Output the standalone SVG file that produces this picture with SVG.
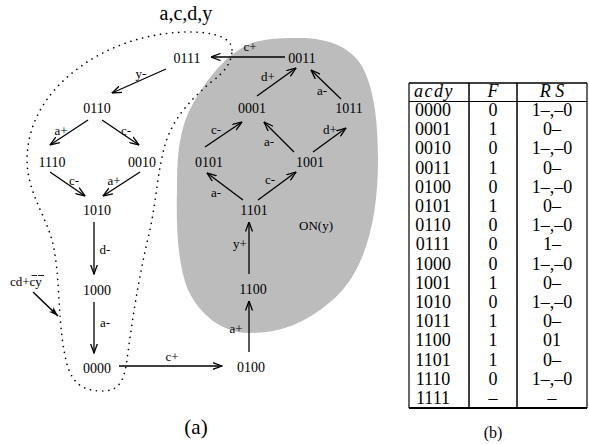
<svg xmlns="http://www.w3.org/2000/svg" width="589" height="444" viewBox="0 0 589 444">
  <style>
    .node { font-family: "Liberation Serif", "Times New Roman", serif; font-size: 14px; text-anchor: middle; fill: #000; }
    .lbl { font-family: "Liberation Serif", "Times New Roman", serif; font-size: 13px; text-anchor: middle; fill: #000; }
    .edge { stroke: #000; stroke-width: 1.3; fill: none; marker-end: url(#arr); }
    .cap { font-family: "Liberation Serif", "Times New Roman", serif; text-anchor: middle; fill: #000; }
    .tb { font-family: "Liberation Serif", "Times New Roman", serif; font-size: 18px; text-anchor: middle; fill: #000; }
    .th { font-family: "Liberation Serif", "Times New Roman", serif; font-size: 18px; font-style: italic; text-anchor: middle; fill: #000; }
    .rule { stroke: #000; fill: none; }
  </style>
  <defs>
    <marker id="arr" viewBox="0 0 10 8" refX="9.5" refY="4" markerWidth="10" markerHeight="8" markerUnits="userSpaceOnUse" orient="auto">
      <path d="M0,0.5 L9.5,4 L0,7.5" fill="none" stroke="#000" stroke-width="1.3"/>
    </marker>
    <marker id="arrFill" viewBox="0 0 10 8" refX="9.5" refY="4" markerWidth="10" markerHeight="8" markerUnits="userSpaceOnUse" orient="auto">
      <path d="M0,0.8 L9.5,4 L0,7.2 L2.5,4 Z" fill="#000"/>
    </marker>
  </defs>

  <rect width="589" height="444" fill="#fff"/>

  <!-- ON-set region of y -->
  <path id="on-region" d="M300,38 C330,38 352,48 363,68 C374,90 378,120 378,160 C378,220 365,270 335,298 C310,320 285,333 250,333 C222,333 200,315 188,290 C178,265 176,230 177,190 C177,150 180,125 195,100 C210,75 230,50 255,42 C270,38 285,38 300,38 Z" fill="#bcbcbc"/>

  <!-- dotted boundary around the excitation region -->
  <path id="region-outline" d="M232,50 C232,38 215,32 190,32 C150,32 110,45 80,67 C45,92 27,125 27,160 C27,190 45,215 52,240 C60,270 58,320 64,350 C68,375 75,390 100,391 C120,392 124,380 127,360 C132,320 140,270 150,230 C156,200 158,170 165,145 C172,120 190,100 210,83 C225,72 232,62 232,50 Z" fill="none" stroke="#000" stroke-width="1.6" stroke-linecap="round" stroke-dasharray="0.1 6"/>

  <text class="cap" x="186" y="20" font-size="20">a,c,d,y</text>

  <!-- transitions -->
  <g id="connectors">
    <line class="edge" x1="285" y1="57" x2="211" y2="57"/>
    <line class="edge" x1="166" y1="69" x2="112" y2="93"/>
    <line class="edge" x1="88" y1="120" x2="50" y2="145"/>
    <line class="edge" x1="102" y1="120" x2="139" y2="145"/>
    <line class="edge" x1="50" y1="172" x2="85" y2="196"/>
    <line class="edge" x1="140" y1="172" x2="103" y2="196"/>
    <line class="edge" x1="94" y1="222" x2="94" y2="274"/>
    <line class="edge" x1="94" y1="302" x2="94" y2="353"/>
    <line class="edge" x1="119" y1="366" x2="222" y2="366"/>
    <line class="edge" x1="249" y1="352" x2="249" y2="301"/>
    <line class="edge" x1="249" y1="274" x2="249" y2="222"/>
    <line class="edge" x1="243" y1="200" x2="207" y2="173"/>
    <line class="edge" x1="258" y1="200" x2="296" y2="172"/>
    <line class="edge" x1="205" y1="147" x2="242" y2="122"/>
    <line class="edge" x1="294" y1="152" x2="264" y2="122"/>
    <line class="edge" x1="313" y1="152" x2="346" y2="128"/>
    <line class="edge" x1="257" y1="96" x2="296" y2="68"/>
    <line class="edge" x1="341" y1="99" x2="311" y2="70"/>
    <line x1="33" y1="292" x2="58" y2="316" stroke="#000" stroke-width="1.5" marker-end="url(#arrFill)"/>

    <text class="lbl" x="250" y="51">c+</text>
    <text class="lbl" x="141" y="78">y-</text>
    <text class="lbl" x="61" y="135">a+</text>
    <text class="lbl" x="126" y="135">c-</text>
    <text class="lbl" x="74" y="185">c-</text>
    <text class="lbl" x="114" y="185">a+</text>
    <text class="lbl" x="105" y="254">d-</text>
    <text class="lbl" x="105" y="327">a-</text>
    <text class="lbl" x="172" y="361">c+</text>
    <text class="lbl" x="236" y="333">a+</text>
    <text class="lbl" x="240" y="248">y+</text>
    <text class="lbl" x="216" y="197">a-</text>
    <text class="lbl" x="270" y="184">c-</text>
    <text class="lbl" x="216" y="134">c-</text>
    <text class="lbl" x="269" y="146">a-</text>
    <text class="lbl" x="330" y="134">d+</text>
    <text class="lbl" x="268" y="81">d+</text>
    <text class="lbl" x="322" y="95">a-</text>
    <text class="lbl" x="316" y="230">ON(y)</text>
    <g id="guard">
      <text class="lbl" x="10" y="286" style="text-anchor:start" font-size="14">cd+cy</text>
      <line x1="31.5" y1="275.5" x2="37" y2="275.5" stroke="#000" stroke-width="0.9"/>
      <line x1="38" y1="275.5" x2="44" y2="275.5" stroke="#000" stroke-width="0.9"/>
    </g>
  </g>

  <!-- states -->
  <g id="n0111"><text class="node" x="187" y="63">0111</text></g>
  <g id="n0011"><text class="node" x="302" y="63">0011</text></g>
  <g id="n0110"><text class="node" x="97" y="113">0110</text></g>
  <g id="n0001"><text class="node" x="252" y="113">0001</text></g>
  <g id="n1011"><text class="node" x="349" y="113">1011</text></g>
  <g id="n1110"><text class="node" x="52" y="167">1110</text></g>
  <g id="n0010"><text class="node" x="142" y="167">0010</text></g>
  <g id="n0101"><text class="node" x="209" y="167">0101</text></g>
  <g id="n1001"><text class="node" x="310" y="167">1001</text></g>
  <g id="n1010"><text class="node" x="97" y="215">1010</text></g>
  <g id="n1101"><text class="node" x="254" y="215">1101</text></g>
  <g id="n1000"><text class="node" x="97" y="295">1000</text></g>
  <g id="n1100"><text class="node" x="253" y="294">1100</text></g>
  <g id="n0000"><text class="node" x="97" y="373">0000</text></g>
  <g id="n0100"><text class="node" x="251" y="372">0100</text></g>

  <text class="cap" x="196" y="434" font-size="21">(a)</text>

  <!-- truth table -->
  <g id="table">
    <line class="rule" x1="409" y1="83" x2="587" y2="83" stroke-width="1.3"/>
    <line class="rule" x1="409" y1="101.5" x2="587" y2="101.5" stroke-width="1"/>
    <line class="rule" x1="409" y1="408" x2="587" y2="408" stroke-width="1.8"/>
    <line class="rule" x1="409" y1="83" x2="409" y2="408" stroke-width="1.2"/>
    <line class="rule" x1="469" y1="83" x2="469" y2="408" stroke-width="1.5"/>
    <line class="rule" x1="517" y1="83" x2="517" y2="408" stroke-width="1.5"/>
    <line class="rule" x1="587" y1="83" x2="587" y2="408" stroke-width="1.2"/>

    <text class="th" x="434" y="97" letter-spacing="1.5">acdy</text>
    <text class="th" x="493" y="97">F</text>
    <text class="th" x="552" y="97" xml:space="preserve">R S</text>

    <g class="tb">
      <text x="433" y="116">0000</text><text x="493" y="116">0</text><text x="552" y="116">1–,–0</text>
      <text x="433" y="135.2">0001</text><text x="493" y="135.2">1</text><text x="552" y="135.2">0–</text>
      <text x="433" y="154.4">0010</text><text x="493" y="154.4">0</text><text x="552" y="154.4">1–,–0</text>
      <text x="433" y="173.6">0011</text><text x="493" y="173.6">1</text><text x="552" y="173.6">0–</text>
      <text x="433" y="192.8">0100</text><text x="493" y="192.8">0</text><text x="552" y="192.8">1–,–0</text>
      <text x="433" y="212">0101</text><text x="493" y="212">1</text><text x="552" y="212">0–</text>
      <text x="433" y="231.2">0110</text><text x="493" y="231.2">0</text><text x="552" y="231.2">1–,–0</text>
      <text x="433" y="250.4">0111</text><text x="493" y="250.4">0</text><text x="552" y="250.4">1–</text>
      <text x="433" y="269.6">1000</text><text x="493" y="269.6">0</text><text x="552" y="269.6">1–,–0</text>
      <text x="433" y="288.8">1001</text><text x="493" y="288.8">1</text><text x="552" y="288.8">0–</text>
      <text x="433" y="308">1010</text><text x="493" y="308">0</text><text x="552" y="308">1–,–0</text>
      <text x="433" y="327.2">1011</text><text x="493" y="327.2">1</text><text x="552" y="327.2">0–</text>
      <text x="433" y="346.4">1100</text><text x="493" y="346.4">1</text><text x="552" y="346.4">01</text>
      <text x="433" y="365.6">1101</text><text x="493" y="365.6">1</text><text x="552" y="365.6">0–</text>
      <text x="433" y="384.8">1110</text><text x="493" y="384.8">0</text><text x="552" y="384.8">1–,–0</text>
      <text x="433" y="404">1111</text><text x="493" y="404">–</text><text x="552" y="404">–</text>
    </g>
  </g>

  <text class="cap" x="493" y="438" font-size="16">(b)</text>
</svg>
